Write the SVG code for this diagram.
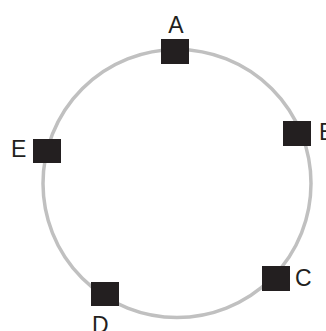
<svg xmlns="http://www.w3.org/2000/svg" width="326" height="331" viewBox="0 0 326 331">
<style>
.ring{fill:none;stroke:#c0c0c0;stroke-width:3.5}
.sq{fill:#231f20}
.lb{font-family:"Liberation Sans",Arial,sans-serif;font-size:23px;fill:#231f20}
</style>
<rect width="326" height="331" fill="#ffffff"/>
<g id="connectors">
<circle class="ring" cx="177" cy="183.5" r="134"/>
</g>
<g id="node-A"><rect class="sq" x="161" y="39" width="28" height="25"/><text class="lb" x="176" y="33" text-anchor="middle">A</text></g>
<g id="node-B"><rect class="sq" x="283" y="121" width="28" height="25"/><text class="lb" x="319" y="140">B</text></g>
<g id="node-C"><rect class="sq" x="262" y="266" width="28" height="25"/><text class="lb" x="295" y="286">C</text></g>
<g id="node-D"><rect class="sq" x="91" y="282" width="28" height="24"/><text class="lb" x="92" y="333">D</text></g>
<g id="node-E"><rect class="sq" x="33" y="139" width="28" height="24"/><text class="lb" x="11" y="157">E</text></g>
</svg>
